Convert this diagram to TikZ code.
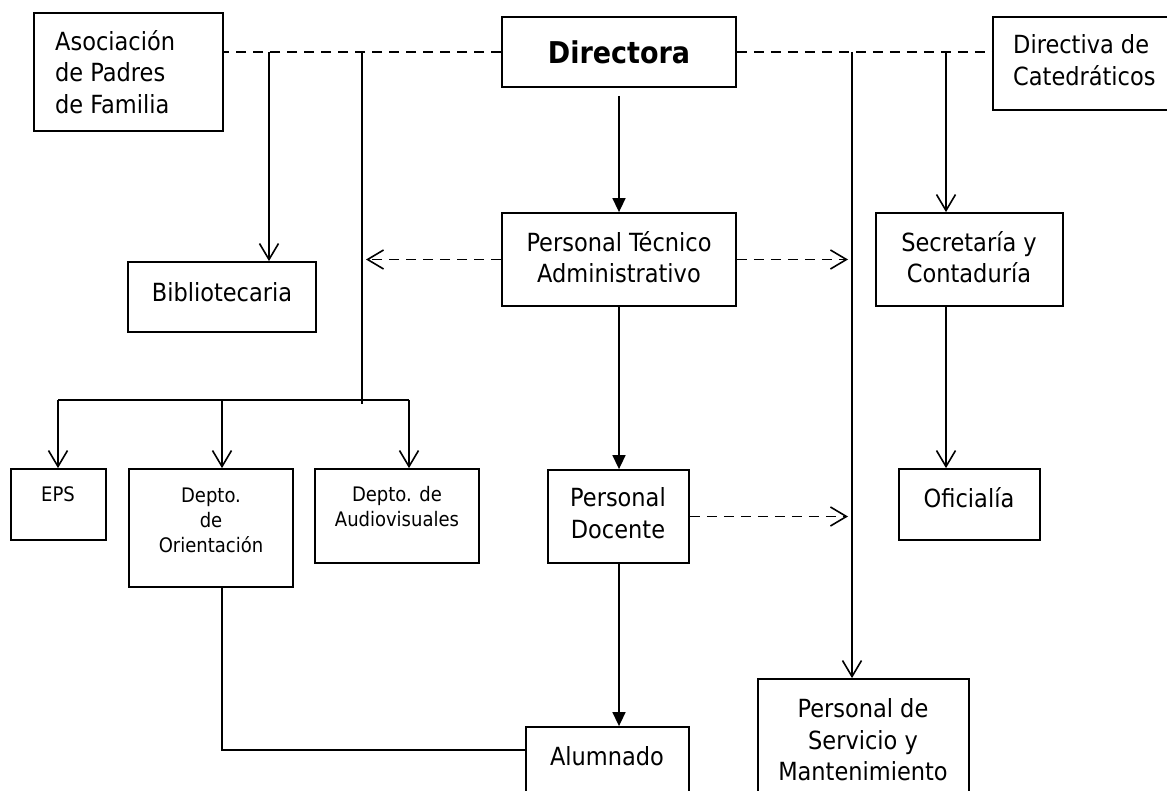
\documentclass[tikz,border=0pt]{standalone}
\usepackage{fontspec}
\setmainfont{DejaVu Sans Condensed}
\usetikzlibrary{arrows.meta,fit,calc}
\begin{document}
\begin{tikzpicture}[x=1pt,y=-1pt,
  box/.style={draw, line width=1.8pt, inner sep=0pt},
  lbl/.style={inner sep=0pt, align=center, font=\fontsize{25}{31.5}\selectfont},
  lbll/.style={lbl, align=left},
  sml/.style={inner sep=0pt, align=center, font=\fontsize{20}{25}\selectfont},
  conn/.style={line width=1.6pt},
  dsh/.style={conn, dash pattern=on 10pt off 7pt},
  opentip/.style={-{Straight Barb[length=16pt,width=19pt]}},
  solidtip/.style={-{Triangle[length=14pt,width=13pt]}}
]
\clip (0,0) rectangle (1167,791);
\fill[white] (0,0) rectangle (1167,791);

% boxes
\node[box, fit={(34,13)(223,131)}] (asoc) {};
\node[lbll, anchor=west] (asoct) at (55,72) {Asociación\\de Padres\\de Familia};
\node[box, fit={(502,17)(736,87)}] (dir) {};
\node[inner sep=0pt, font=\fontsize{30}{36}\selectfont\bfseries] (dirt) at (619,52) {Directora};
\node[box, fit={(993,17)(1190,110)}] (dcat) {};
\node[lbll, anchor=west] (dcatt) at (1013,60) {Directiva de\\Catedráticos};
\node[box, fit={(128,262)(316,332)}] (bib) {};
\node[lbl] (bibt) at (222,292) {Bibliotecaria};
\node[box, fit={(502,213)(736,306)}] (pta) {};
\node[lbl] (ptat) at (619,257) {Personal Técnico\\Administrativo};
\node[box, fit={(876,213)(1063,306)}] (sec) {};
\node[lbl] (sect) at (969,257) {Secretaría y\\Contaduría};
\node[box, fit={(11,469)(106,540)}] (eps) {};
\node[sml] (epst) at (58,494) {EPS};
\node[box, fit={(129,469)(293,587)}] (ori) {};
\node[sml] (orit) at (211,520) {Depto.\\de\\Orientación};
\node[box, fit={(315,469)(479,563)}] (aud) {};
\node[sml] (audt) at (397,507) {Depto. de\\Audiovisuales};
\node[box, fit={(548,470)(689,563)}] (doc) {};
\node[lbl] (doct) at (618,513) {Personal\\Docente};
\node[box, fit={(899,469)(1040,540)}] (ofi) {};
\node[lbl] (ofit) at (969,498) {Oficialía};
\node[box, fit={(526,727)(689,810)}] (alu) {};
\node[lbl] (alut) at (607,756) {Alumnado};
\node[box, fit={(758,679)(969,810)}] (ser) {};
\node[lbl] (sert) at (863,740) {Personal de\\Servicio y\\Mantenimiento};

% junction coordinates
\coordinate (tbib) at (269,52);
\coordinate (t362) at (362,52);
\coordinate (b362) at (362,404);
\coordinate (hl) at (58,400);
\coordinate (hm) at (222,400);
\coordinate (hr) at (409,400);
\coordinate (t852) at (852,52);
\coordinate (t946) at (946,52);
\coordinate (dgap) at (619,96);
\coordinate (ob) at (222,750);

% dashed top line
\draw[dsh] (dir.west) -- (dir.west -| asoc.east);
\draw[dsh] (dir.east) -- (dir.east -| dcat.west);

% left branch
\draw[conn, opentip] (tbib) -- (tbib |- bib.north);
\draw[conn] (t362) -- (b362);
\draw[conn] (hl) -- (hr);
\draw[conn, opentip] (hl) -- (hl |- eps.north);
\draw[conn, opentip] (hm) -- (hm |- ori.north);
\draw[conn, opentip] (hr) -- (hr |- aud.north);

% centre column
\draw[conn, solidtip] (dgap) -- (pta.north);
\draw[conn, solidtip] (pta.south) -- (doc.north -| pta.south);
\draw[conn, solidtip] (doc.south -| pta.south) -- (alu.north -| pta.south);
\draw[dsh, opentip, shorten >=4pt] (pta.west) -- (pta.west -| t362);
\draw[dsh, opentip, shorten >=4pt] (pta.east) -- (pta.east -| t852);
\draw[dsh, opentip, shorten >=4pt] (doc.east) -- (doc.east -| t852);

% right side
\draw[conn, opentip] (t852) -- (t852 |- ser.north);
\draw[conn, opentip] (t946) -- (t946 |- sec.north);
\draw[conn, opentip] (sec.south -| t946) -- (ofi.north -| t946);

% Orientación to Alumnado
\draw[conn] (ori.south -| ob) -- (ob) -- (ob -| alu.west);
\end{tikzpicture}
\end{document}
